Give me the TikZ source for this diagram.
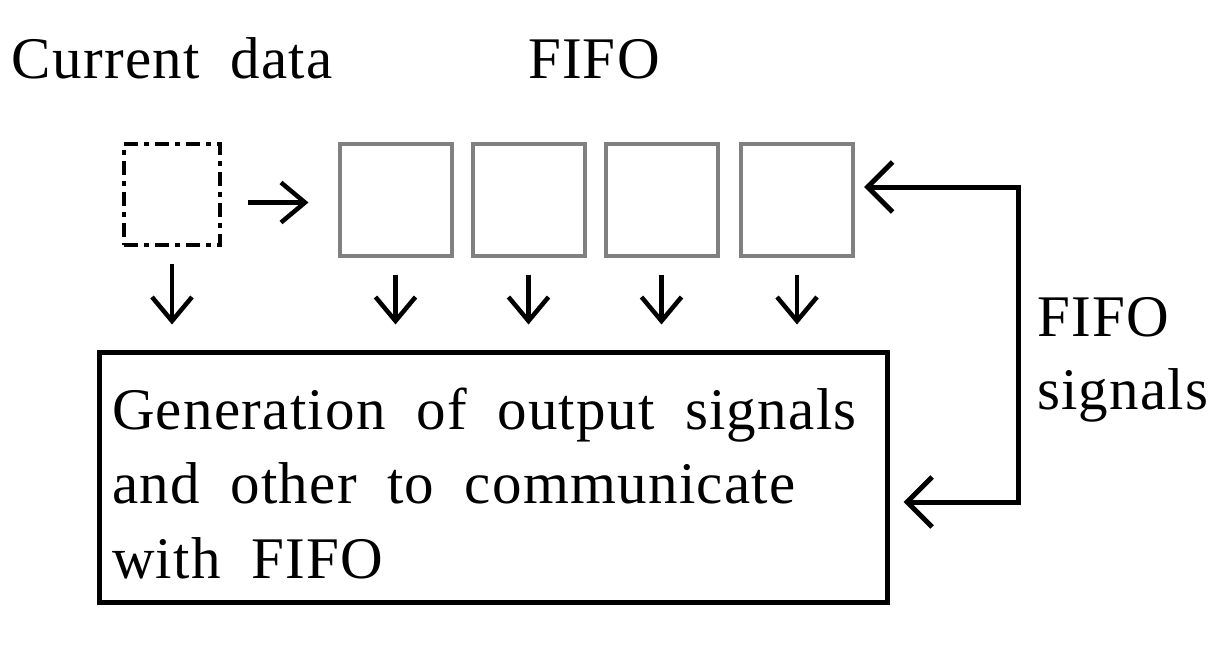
\documentclass[tikz,border=0pt]{standalone}
\usepackage{fontspec}
\setmainfont{Liberation Serif}[LetterSpace=2.2,WordSpace=1.9]
\usepackage{tikz}
\usetikzlibrary{arrows.meta}

\begin{document}
\begin{tikzpicture}[x=1pt,y=-1pt,
  lbl/.style={inner sep=0pt,outer sep=0pt,font=\fontsize{59}{74.5}\selectfont},
  cell/.style={draw={rgb,255:red,128;green,128;blue,128},line width=4pt,minimum width=112pt,minimum height=112pt,inner sep=0pt,outer sep=0pt},
  arr/.style={line width=4.5pt,-{Straight Barb[length=24pt,width=40pt]}},
  fbarr/.style={line width=5pt,{Straight Barb[length=25pt,width=50pt]}-{Straight Barb[length=25pt,width=50pt]}}]
\path[use as bounding box] (0,0) rectangle (1231,651);
\path[fill=white,draw=none] (0,0) rectangle (1231,651);
% labels above
\node[lbl,anchor=base west] (curlbl) at (12,78) {Current data};
\node[lbl,anchor=base west] (fifolbl) at (528,78) {FIFO};
% current data and the FIFO cells
\node[draw,line width=4pt,dash pattern=on 14pt off 6pt on 5pt off 6pt,minimum width=96pt,minimum height=101pt,inner sep=0pt,outer sep=0pt] (cur) at (172,194.5) {};
\node[cell] (f1) at (395.5,199.5) {};
\node[cell] (f2) at (528.5,199.5) {};
\node[cell] (f3) at (661.5,199.5) {};
\node[cell] (f4) at (797,199.5) {};
% output block
\node[draw,line width=5pt,minimum width=788pt,minimum height=250pt,inner sep=0pt,outer sep=0pt] (gen) at (493.5,477.5) {};
\node[lbl,anchor=north west,align=left] (gentext) at (112,387.7) {Generation of output signals\\and other to communicate\\with FIFO};
\node[lbl,anchor=north west,align=left,font=\fontsize{59}{73}\selectfont] (fifosig) at (1037,297) {FIFO\\signals};
% connectors
\draw[arr,shorten <=28pt,shorten >=31pt] ([yshift=-8pt]cur.east) -- ([yshift=-8pt]cur.east -| f1.west);
\foreach \c in {cur,f1,f2,f3,f4}
  \draw[arr,shorten <=19pt,shorten >=28pt] (\c.south) -- (\c.south |- gen.north);
\coordinate (fbtop) at (1018,187);
\coordinate (fbbot) at (1018,502);
\draw[fbarr,shorten <=11pt,shorten >=16pt] (f4.east |- fbtop) -- (fbtop) -- (fbbot) -- (gen.east |- fbbot);
\end{tikzpicture}
\end{document}
